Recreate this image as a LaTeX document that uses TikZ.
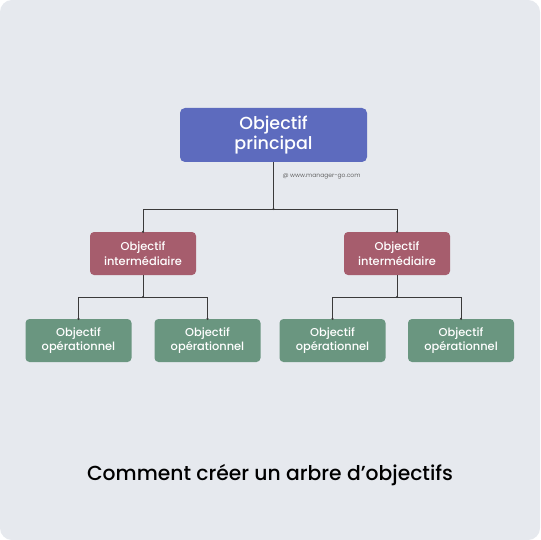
\documentclass[tikz,border=0pt]{standalone}
\usepackage{fontspec}
\setmainfont{Poppins}
\newfontfamily\medium{Poppins Medium}
\usetikzlibrary{positioning}
\definecolor{fond}{HTML}{E6E9EE}
\definecolor{bleu}{HTML}{5D6BBE}
\definecolor{bordeaux}{HTML}{A65D6D}
\definecolor{vert}{HTML}{6A9680}
\definecolor{trait}{HTML}{3A3A3A}
\begin{document}
\begin{tikzpicture}[x=1pt,y=-1pt,
	box/.style={rectangle,rounded corners=4pt,text=white,align=center,inner sep=0pt},
	principal/.style={box,fill=bleu,minimum width=187pt,minimum height=54pt,rounded corners=5pt,
		font=\medium\fontsize{17.5}{20}\selectfont},
	inter/.style={box,fill=bordeaux,minimum width=106pt,minimum height=43pt,
		font=\medium\fontsize{11.4}{14.5}\selectfont},
	oper/.style={box,fill=vert,minimum width=106pt,minimum height=43pt,
		font=\medium\fontsize{11.4}{14.5}\selectfont},
	line/.style={draw=trait,line width=0.9pt},
	dot/.style={circle,fill=trait,inner sep=0pt,minimum size=2.4pt}]
	
	% fond
	\fill[white] (0,0) rectangle (540,540);
	\fill[fond,rounded corners=12pt] (0,0) rectangle (540,540);
	
	% blocs
	\node[principal] (top) at (273.5,135) {Objectif\\principal};
	\node[inter] (int1) at (143,253.5) {Objectif\\intermédiaire};
	\node[inter] (int2) at (397,253.5) {Objectif\\intermédiaire};
	\node[oper] (op1) at (78.5,340.5) {Objectif\\opérationnel};
	\node[oper] (op2) at (207.5,340.5) {Objectif\\opérationnel};
	\node[oper] (op3) at (332.5,340.5) {Objectif\\opérationnel};
	\node[oper] (op4) at (461,340.5) {Objectif\\opérationnel};
	
	\node[text=gray!80!black,anchor=west,font=\fontsize{6}{7}\selectfont] (site) at (279,176) {@ www.manager-go.com};
	
	% embranchements
	\coordinate (f0) at (top.south |- 0,209);
	\coordinate (f1) at (int1.south |- 0,297);
	\coordinate (f2) at (int2.south |- 0,297);
	
	\draw[line] (top.south) -- (f0);
	\draw[line] (f0) -| (int1.north);
	\draw[line] (f0) -| (int2.north);
	
	\draw[line] (int1.south) -- (f1);
	\draw[line] (f1) -| (op1.north);
	\draw[line] (f1) -| (op2.north);
	
	\draw[line] (int2.south) -- (f2);
	\draw[line] (f2) -| (op3.north);
	\draw[line] (f2) -| (op4.north);
	
	% points
	\foreach \p in {f0,f1,f2,int1.north,int2.north,op1.north,op2.north,op3.north,op4.north}
		\node[dot] at (\p) {};
	
	% titre
	\node[font=\medium\fontsize{20.3}{24}\selectfont] (titre) at (270,475) {Comment créer un arbre d’objectifs};
\end{tikzpicture}
\end{document}
